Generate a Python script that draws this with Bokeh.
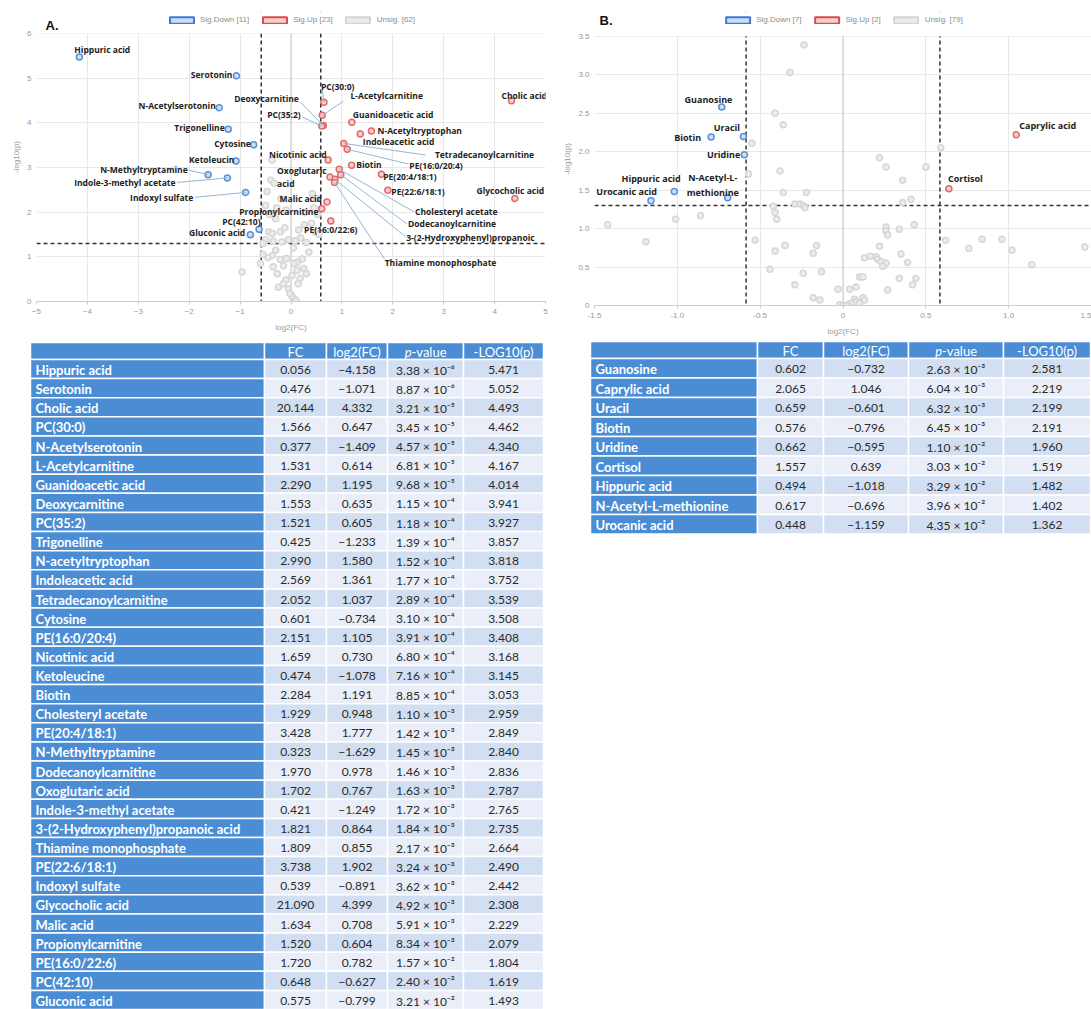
import math
from bokeh.plotting import figure
from bokeh.layouts import row, column
from bokeh.models import (Range1d, FixedTicker, Span, Legend, LegendItem, Label,
                          CustomJSTickFormatter, BoxAnnotation)
from bokeh.core.properties import value
from bokeh.embed import file_html
from bokeh.resources import INLINE

# ---------------- Data: panel A ----------------
a_names = ["Hippuric acid", "Serotonin", "Cholic acid", "PC(30:0)", "N-Acetylserotonin",
           "L-Acetylcarnitine", "Guanidoacetic acid", "Deoxycarnitine", "PC(35:2)", "Trigonelline",
           "N-acetyltryptophan", "Indoleacetic acid", "Tetradecanoylcarnitine", "Cytosine",
           "PE(16:0/20:4)", "Nicotinic acid", "Ketoleucine", "Biotin", "Cholesteryl acetate",
           "PE(20:4/18:1)", "N-Methyltryptamine", "Dodecanoylcarnitine", "Oxoglutaric acid",
           "Indole-3-methyl acetate", "3-(2-Hydroxyphenyl)propanoic acid", "Thiamine monophosphate",
           "PE(22:6/18:1)", "Indoxyl sulfate", "Glycocholic acid", "Malic acid", "Propionylcarnitine",
           "PE(16:0/22:6)", "PC(42:10)", "Gluconic acid"]
a_fc = [0.056, 0.476, 20.144, 1.566, 0.377, 1.531, 2.290, 1.553, 1.521, 0.425, 2.990, 2.569,
        2.052, 0.601, 2.151, 1.659, 0.474, 2.284, 1.929, 3.428, 0.323, 1.970, 1.702, 0.421,
        1.821, 1.809, 3.738, 0.539, 21.090, 1.634, 1.520, 1.720, 0.648, 0.575]
a_log2fc = [-4.158, -1.071, 4.332, 0.647, -1.409, 0.614, 1.195, 0.635, 0.605, -1.233, 1.580,
            1.361, 1.037, -0.734, 1.105, 0.730, -1.078, 1.191, 0.948, 1.777, -1.629, 0.978,
            0.767, -1.249, 0.864, 0.855, 1.902, -0.891, 4.399, 0.708, 0.604, 0.782, -0.627, -0.799]
a_pval = [3.38e-6, 8.87e-6, 3.21e-5, 3.45e-5, 4.57e-5, 6.81e-5, 9.68e-5, 1.15e-4, 1.18e-4,
          1.39e-4, 1.52e-4, 1.77e-4, 2.89e-4, 3.10e-4, 3.91e-4, 6.80e-4, 7.16e-4, 8.85e-4,
          1.10e-3, 1.42e-3, 1.45e-3, 1.46e-3, 1.63e-3, 1.72e-3, 1.84e-3, 2.17e-3, 3.24e-3,
          3.62e-3, 4.92e-3, 5.91e-3, 8.34e-3, 1.57e-2, 2.40e-2, 3.21e-2]
a_neglog = [5.471, 5.052, 4.493, 4.462, 4.340, 4.167, 4.014, 3.941, 3.927, 3.857, 3.818, 3.752,
            3.539, 3.508, 3.408, 3.168, 3.145, 3.053, 2.959, 2.849, 2.840, 2.836, 2.787, 2.765,
            2.735, 2.664, 2.490, 2.442, 2.308, 2.229, 2.079, 1.804, 1.619, 1.493]

a_unsig_x = [-0.37, -0.40, -0.33, -0.47, -0.50, -0.42, -0.30, -0.20, -0.10, 0.42, 0.50, 0.45,
             0.52, 0.40, 0.26, 0.19, 0.48, 0.55, -0.44, -0.37, -0.21, -0.50, -0.35, -0.18,
             -0.05, 0.08, 0.30, -0.55, -0.37, -0.45, -0.21, -0.09, 0.12, 0.22, -0.96, -0.35,
             -0.15, 0.12, 0.25, -0.27, 0.02, 0.18, -0.10, -0.25, -0.05, 0.14, 0.06, 0.02,
             -0.02, 0.10, -0.15, 0.30, -0.55, 0.35, -0.30, 0.05, -0.60, 0.28, -0.12, 0.05,
             -0.28, 0.15]
a_unsig_y = [3.17, 2.72, 2.65, 2.46, 2.15, 1.95, 1.85, 2.30, 2.05, 2.42, 2.30, 2.10, 1.95, 1.75,
             1.72, 1.42, 1.55, 1.50, 1.56, 1.52, 1.56, 1.38, 1.35, 1.33, 1.38, 1.36, 1.32, 1.30,
             1.03, 0.98, 0.94, 0.96, 0.88, 0.95, 0.66, 0.78, 0.80, 0.70, 0.74, 0.62, 0.58, 0.52,
             0.48, 0.32, 0.28, 0.40, 0.06, 0.12, 0.18, 0.02, 0.40, 0.62, 1.05, 1.10, 1.15, 1.20,
             0.85, 2.00, 1.65, 0.85, 2.10, 1.60]

# ---------------- Data: panel B ----------------
b_names = ["Guanosine", "Caprylic acid", "Uracil", "Biotin", "Uridine", "Cortisol",
           "Hippuric acid", "N-Acetyl-L-methionine", "Urocanic acid"]
b_fc = [0.602, 2.065, 0.659, 0.576, 0.662, 1.557, 0.494, 0.617, 0.448]
b_log2fc = [-0.732, 1.046, -0.601, -0.796, -0.595, 0.639, -1.018, -0.696, -1.159]
b_pval = [2.63e-3, 6.04e-3, 6.32e-3, 6.45e-3, 1.10e-2, 3.03e-2, 3.29e-2, 3.96e-2, 4.35e-2]
b_neglog = [2.581, 2.219, 2.199, 2.191, 1.960, 1.519, 1.482, 1.402, 1.362]

b_unsig_x = [-0.235, -0.32, -0.41, -0.36, -0.55, 0.59, 0.22, 0.26, 0.50, -0.57, -0.38, 0.36,
             -0.36, -0.22, 0.41, 0.36, -0.42, -0.41, -0.29, -0.26, -0.24, -0.23, -0.40, -1.42,
             -1.01, -0.86, -1.19, -0.53, 0.26, 0.26, 0.27, 0.34, 0.43, -0.35, -0.41, -0.16,
             -0.18, 0.22, 0.35, 0.39, 0.165, 0.13, 0.20, 0.21, 0.23, 0.26, 0.24, -0.44, -0.24,
             -0.13, 0.10, 0.12, 0.34, 0.44, 0.42, -0.29, -0.03, 0.04, 0.08, 0.27, -0.18, -0.14,
             0.12, 0.13, -0.02, 0.00, 0.07, 0.08, 0.05, 0.03, 0.02, 0.10, 0.62, 0.76, 0.84,
             0.96, 1.02, 1.14, 1.46]
b_unsig_y = [3.39, 3.03, 2.50, 2.35, 2.11, 2.05, 1.92, 1.80, 1.80, 1.71, 1.75, 1.63, 1.47, 1.47,
             1.38, 1.34, 1.29, 1.21, 1.32, 1.32, 1.30, 1.27, 1.12, 1.05, 1.12, 1.17, 0.83, 0.85,
             1.02, 0.97, 0.92, 0.99, 1.05, 0.78, 0.71, 0.78, 0.68, 0.77, 0.67, 0.56, 0.64, 0.62,
             0.63, 0.60, 0.57, 0.55, 0.51, 0.47, 0.42, 0.44, 0.37, 0.37, 0.35, 0.35, 0.27, 0.27,
             0.21, 0.21, 0.24, 0.20, 0.10, 0.07, 0.10, 0.07, 0.01, 0.00, 0.08, 0.05, 0.03, 0.01,
             0.00, 0.03, 0.85, 0.74, 0.86, 0.86, 0.72, 0.53, 0.76]

# thresholds
FC_CUT = 1.5
P_CUT = 0.05

# ---------------- label placement (annotation layout) ----------------
# name: (shown text, dx, dy, align, leader_dx, leader_dy)
A_LAB = {
    "Hippuric acid": ("Hippuric acid", 0.45, 0.16, "center", None, None),
    "Serotonin": ("Serotonin", -0.08, 0.03, "right", None, None),
    "Cholic acid": ("Cholic acid", 0.25, 0.13, "center", None, None),
    "PC(30:0)": ("PC(30:0)", -0.06, 0.36, "left", -0.03, 0.27),
    "N-Acetylserotonin": ("N-Acetylserotonin", -0.07, 0.04, "right", None, None),
    "L-Acetylcarnitine": ("L-Acetylcarnitine", 0.556, 0.45, "left", 0.42, 0.32),
    "Guanidoacetic acid": ("Guanidoacetic acid", 0.02, 0.18, "left", None, None),
    "Deoxycarnitine": ("Deoxycarnitine", -0.48, 0.61, "right", -0.45, 0.52),
    "PC(35:2)": ("PC(35:2)", -0.415, 0.26, "right", -0.38, 0.2),
    "Trigonelline": ("Trigonelline", -0.07, 0.03, "right", None, None),
    "N-acetyltryptophan": ("N-Acetyltryptophan", 0.12, 0.01, "left", None, None),
    "Indoleacetic acid": ("Indoleacetic acid", 0.05, -0.18, "left", None, None),
    "Tetradecanoylcarnitine": ("Tetradecanoylcarnitine", 1.79, -0.24, "left", 1.61, -0.26),
    "Cytosine": ("Cytosine", -0.055, 0.02, "right", None, None),
    "PE(16:0/20:4)": ("PE(16:0/20:4)", 1.22, -0.36, "left", 1.2, -0.33),
    "Nicotinic acid": ("Nicotinic acid", -0.03, 0.13, "right", None, None),
    "Ketoleucine": ("Ketoleucin", -0.035, 0.04, "right", None, None),
    "Biotin": ("Biotin", 0.09, 0.02, "left", None, None),
    "Cholesteryl acetate": ("Cholesteryl acetate", 1.49, -0.95, "left", 1.47, -0.95),
    "PE(20:4/18:1)": ("PE(20:4/18:1)", 0.035, -0.04, "left", None, None),
    "N-Methyltryptamine": ("N-Methyltryptamine", -0.40, 0.12, "right", -0.38, 0.10),
    "Dodecanoylcarnitine": ("Dodecanoylcarnitine", 1.32, -1.10, "left", 1.30, -1.10),
    "Oxoglutaric acid": ("Oxoglutaric\nacid", -1.04, 0.0, "left", None, None),
    "Indole-3-methyl acetate": ("Indole-3-methyl acetate", -1.02, -0.10, "right", -0.99, -0.10),
    "3-(2-Hydroxyphenyl)propanoic acid": ("3-(2-Hydroxyphenyl)propanoic", 1.40, -1.30, "left", 1.38, -1.28),
    "Thiamine monophosphate": ("Thiamine monophosphate", 0.985, -1.80, "left", 0.985, -1.72),
    "PE(22:6/18:1)": ("PE(22:6/18:1)", 0.07, -0.03, "left", None, None),
    "Indoxyl sulfate": ("Indoxyl sulfate", -1.03, -0.11, "right", -1.0, -0.11),
    "Glycocholic acid": ("Glycocholic acid", -0.09, 0.17, "center", None, None),
    "Malic acid": ("Malic acid", -0.1, 0.08, "right", None, None),
    "Propionylcarnitine": ("Propionylcarnitine", -0.065, -0.07, "right", None, None),
    "PE(16:0/22:6)": ("PE(16:0/22:6)", 0.0, -0.2, "center", None, None),
    "PC(42:10)": ("PC(42:10)", 0.03, 0.17, "right", None, None),
    "Gluconic acid": ("Gluconic acid", -0.1, 0.05, "right", None, None),
}
B_LAB = {
    "Guanosine": ("Guanosine", -0.08, 0.10, "center", None, None),
    "Caprylic acid": ("Caprylic acid", 0.19, 0.12, "center", None, None),
    "Uracil": ("Uracil", -0.10, 0.11, "center", None, None),
    "Biotin": ("Biotin", -0.06, 0.0, "right", None, None),
    "Uridine": ("Uridine", -0.025, 0.0, "right", None, None),
    "Cortisol": ("Cortisol", 0.10, 0.13, "center", None, None),
    "Hippuric acid": ("Hippuric acid", -0.14, 0.17, "center", None, None),
    "N-Acetyl-L-methionine": ("N-Acetyl-L-\nmethionine", -0.09, 0.17, "center", None, None),
    "Urocanic acid": ("Urocanic acid", -0.33, 0.12, "left", None, None),
}

AXIS_FONT = "Liberation Sans"
LAB_FONT = value("Open Sans")
TAB_FONT = value("Lato")
NAN = float("nan")


def volcano(width, height, xr, yr, ytop, borders, xticks, yticks, fmt, lx, ly, names,
            ux, uy, labels, tag, tag_offset, lab_size):
    # yr is the data range; ytop extends the frame upward to hold the legend strip
    p = figure(width=width, height=height, x_range=Range1d(*xr), y_range=Range1d(yr[0], ytop),
               output_backend="svg", toolbar_location=None, title=None,
               min_border_left=borders[0], min_border_right=borders[1],
               min_border_top=borders[2], min_border_bottom=borders[3])
    p.frame_align = False
    p.outline_line_color = None
    p.xaxis.ticker = FixedTicker(ticks=xticks)
    p.yaxis.ticker = FixedTicker(ticks=yticks)
    if fmt is not None:
        p.xaxis.formatter = fmt
        p.yaxis.formatter = fmt
    p.grid.grid_line_color = "#e8e8e8"
    for ax in (p.xaxis, p.yaxis):
        ax.major_label_text_font = AXIS_FONT
        ax.major_label_text_font_size = "8px"
        ax.major_label_text_color = "#999999"
        ax.axis_label_text_font = AXIS_FONT
        ax.axis_label_text_font_size = "8px"
        ax.axis_label_text_color = "#999999"
        ax.axis_label_text_font_style = "normal"
        ax.minor_tick_line_color = None
        ax.minor_tick_out = 0
    p.xaxis.axis_label = "log2(FC)"
    p.yaxis.axis_label = "-log10(p)"
    p.xaxis.axis_line_color = "#cccccc"
    p.xaxis.major_tick_line_color = "#cccccc"
    p.xaxis.major_tick_in = 0
    p.xaxis.major_tick_out = 3
    p.xaxis.major_label_standoff = 4
    p.xaxis.axis_label_standoff = 6
    p.yaxis.axis_line_color = None
    p.yaxis.major_tick_line_color = None
    p.yaxis.major_tick_in = 0
    p.yaxis.major_tick_out = 0
    p.yaxis.major_label_standoff = 5
    p.yaxis.axis_label_standoff = 3

    p.add_layout(Span(location=0, dimension="height", line_color="#c8c8c8", line_width=1,
                      level="underlay"))
    fc_l = math.log2(FC_CUT)
    p_l = -math.log10(P_CUT)
    for loc in (-fc_l, fc_l):
        p.add_layout(Span(location=loc, dimension="height", line_color="#333333",
                          line_width=1.5, line_dash="4 3", level="underlay"))
    p.add_layout(Span(location=p_l, dimension="width", line_color="#333333",
                      line_width=1.5, line_dash="4 3", level="underlay"))
    # white strip above the data area (legend zone): hides grid/threshold lines there
    p.add_layout(BoxAnnotation(bottom=yr[1], fill_color="white", fill_alpha=1.0,
                               line_color=None, level="underlay"))

    p.scatter(ux, uy, size=6, line_color="#d6d6d6", fill_color="#ececec", line_width=1.5)
    dx_ = [x for x in lx if x < 0]
    dy_ = [y for x, y in zip(lx, ly) if x < 0]
    upx = [x for x in lx if x > 0]
    upy = [y for x, y in zip(lx, ly) if x > 0]
    p.scatter(dx_, dy_, size=6, line_color="#5b8fd6", fill_color="#cddff4", line_width=1.5)
    p.scatter(upx, upy, size=6, line_color="#e06b6b", fill_color="#f7cccc", line_width=1.5)

    # leader lines
    sx0, sy0, sx1, sy1 = [], [], [], []
    for n, x, y in zip(names, lx, ly):
        t, ddx, ddy, al, lx0, ly0 = labels[n]
        if lx0 is not None:
            sx0.append(x + lx0); sy0.append(y + ly0); sx1.append(x); sy1.append(y)
    if sx0:
        p.segment(sx0, sy0, sx1, sy1, line_color="#94b6d6", line_width=1)

    for align in ("left", "right", "center"):
        tx, ty, tt = [], [], []
        for n, x, y in zip(names, lx, ly):
            t, ddx, ddy, al, _, _ = labels[n]
            if al == align:
                tx.append(x + ddx); ty.append(y + ddy); tt.append(t)
        if tt:
            p.text(tx, ty, text=tt, text_align=align, text_baseline="middle",
                   text_font=LAB_FONT, text_font_size=lab_size, text_font_style="bold",
                   text_color="#222222", text_line_height=1.15)

    n_down = sum(1 for x in lx if x < 0)
    n_up = sum(1 for x in lx if x > 0)
    r_d = p.quad(left=[NAN], right=[NAN], top=[NAN], bottom=[NAN], fill_color="#c9dcf3", line_color="#3d78d6", line_width=2)
    r_u = p.quad(left=[NAN], right=[NAN], top=[NAN], bottom=[NAN], fill_color="#f8cdcd", line_color="#dc4b4b", line_width=2)
    r_n = p.quad(left=[NAN], right=[NAN], top=[NAN], bottom=[NAN], fill_color="#ececec", line_color="#d4d4d4", line_width=2)
    leg = Legend(items=[LegendItem(label=f"Sig.Down [{n_down}]", renderers=[r_d]),
                        LegendItem(label=f"Sig.Up [{n_up}]", renderers=[r_u]),
                        LegendItem(label=f"Unsig. [{len(ux)}]", renderers=[r_n])],
                 orientation="horizontal", location="top_center", glyph_width=30, glyph_height=8,
                 label_text_font=AXIS_FONT, label_text_font_size="8px",
                 label_text_color="#8c8c8c", border_line_color=None,
                 background_fill_alpha=0, padding=1, margin=3, spacing=10, label_standoff=4,
                 label_height=9)
    p.add_layout(leg)
    p.add_layout(Label(x=xr[0], y=yr[1], text=tag, x_offset=tag_offset[0], y_offset=tag_offset[1],
                       text_baseline="bottom", text_font=AXIS_FONT, text_font_style="bold",
                       text_font_size="13px", text_color="#111111"))
    return p


pA = volcano(560, 338, (-5, 5), (0, 6), 6.47, (36, 15, 12, 37), list(range(-5, 6)),
             list(range(0, 7)), None, a_log2fc, a_neglog, a_names, a_unsig_x, a_unsig_y,
             A_LAB, "A.", (9, 0), "8.5px")

fmtB = CustomJSTickFormatter(code="return tick == 0 ? '0' : tick.toFixed(1);")
pB = volcano(531, 338, (-1.5, 1.5), (0, 3.5), 3.81, (33, 0, 12, 33),
             [-1.5, -1.0, -0.5, 0, 0.5, 1.0, 1.5], [0, 0.5, 1.0, 1.5, 2.0, 2.5, 3.0, 3.5],
             fmtB, b_log2fc, b_neglog, b_names, b_unsig_x, b_unsig_y, B_LAB, "B.", (5, 8), "9px")

SUP = str.maketrans("-0123456789", "⁻⁰¹²³⁴⁵⁶⁷⁸⁹")


def fmt_p(v):
    m, e = f"{v:.2e}".split("e")
    return f"{m} × 10" + str(int(e)).translate(SUP)


def fmt_n(v):
    return f"{v:.3f}".replace("-", "−")


def table(width, height, edges, top, head_h, row_h, names, fc, l2, pv, nl):
    t = figure(width=width, height=height, x_range=Range1d(0, width), y_range=Range1d(height, 0),
               output_backend="svg", toolbar_location=None, x_axis_type=None, y_axis_type=None,
               min_border=0, title=None)
    t.frame_align = False
    t.grid.visible = False
    t.outline_line_color = None
    blue = "#4a8dd4"
    n = len(names)
    # header
    t.quad(left=edges[:-1], right=edges[1:], top=[top] * 5, bottom=[top + head_h] * 5,
           fill_color=blue, line_color="white", line_width=1.5)
    rows_top = [top + head_h + i * row_h for i in range(n)]
    rows_bot = [r + row_h for r in rows_top]
    t.quad(left=[edges[0]] * n, right=[edges[1]] * n, top=rows_top, bottom=rows_bot,
           fill_color=blue, line_color="white", line_width=1.5)
    shades = ["#d2def1" if i % 2 == 0 else "#e9eef8" for i in range(n)]
    for c in range(1, 5):
        t.quad(left=[edges[c]] * n, right=[edges[c + 1]] * n, top=rows_top, bottom=rows_bot,
               fill_color=shades, line_color="white", line_width=1.5)
    hy = top + head_h / 2 + 1
    cx = [(edges[c] + edges[c + 1]) / 2 for c in range(5)]
    t.text([cx[1], cx[2], cx[4]], [hy] * 3, text=["FC", "log2(FC)", "-LOG10(p)"],
           text_align="center", text_baseline="middle", text_font=TAB_FONT,
           text_font_size="13px", text_color="white")
    t.text([cx[3] - 14], [hy], text=["p"], text_align="right", text_baseline="middle",
           text_font=TAB_FONT, text_font_size="13px", text_font_style="italic", text_color="white")
    t.text([cx[3] - 14], [hy], text=["-value"], text_align="left", text_baseline="middle",
           text_font=TAB_FONT, text_font_size="13px", text_color="white")
    ry = [r + row_h / 2 + 1 for r in rows_top]
    t.text([edges[0] + 5] * n, ry, text=names, text_align="left", text_baseline="middle",
           text_font=TAB_FONT, text_font_size="13px", text_font_style="bold", text_color="white")
    cols = [[f"{v:.3f}" for v in fc], [fmt_n(v) for v in l2], [fmt_p(v) for v in pv],
            [f"{v:.3f}" for v in nl]]
    for c, vals in enumerate(cols):
        t.text([cx[c + 1]] * n, ry, text=vals, text_align="center", text_baseline="middle",
               text_font=TAB_FONT, text_font_size="12px", text_color="#2a2a2a")
    return t


tA = table(560, 671, [30, 264, 326, 387, 463, 543], 4, 17, 19.12,
           a_names, a_fc, a_log2fc, a_pval, a_neglog)
tB = table(531, 200, [30, 197, 263, 348, 443, 530], 3, 17, 19.5,
           b_names, b_fc, b_log2fc, b_pval, b_neglog)

layout = row(column(pA, tA), column(pB, tB))
open("out.html", "w").write(file_html(layout, INLINE))
